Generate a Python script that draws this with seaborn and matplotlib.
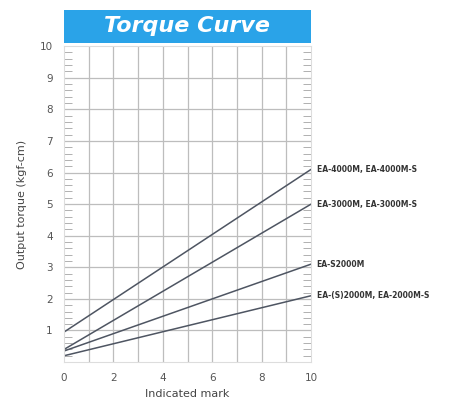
import matplotlib
matplotlib.use("Agg")
import matplotlib.pyplot as plt
import seaborn as sns
import pandas as pd

models = ["EA-4000M, EA-4000M-S", "EA-3000M, EA-3000M-S", "EA-S2000M", "EA-(S)2000M, EA-2000M-S"]
mark = [0, 10]
torque_4000 = [0.95, 6.1]
torque_3000 = [0.4, 5.0]
torque_s2000 = [0.35, 3.1]
torque_2000 = [0.2, 2.1]
x_ticks = [0, 2, 4, 6, 8, 10]
y_ticks = [1, 2, 3, 4, 5, 6, 7, 8, 9, 10]

rows = []
for name, vals in zip(models, [torque_4000, torque_3000, torque_s2000, torque_2000]):
    for m, v in zip(mark, vals):
        rows.append({"model": name, "mark": m, "torque": v})
df = pd.DataFrame(rows)

sns.set_style("white")
fig = plt.figure(figsize=(4.55, 4.05), dpi=100)
ax = fig.add_axes([0.1407, 0.106, 0.543, 0.78])

sns.lineplot(data=df, x="mark", y="torque", units="model", estimator=None,
             color="#4e5562", linewidth=1.1, ax=ax, legend=False)

ax.set_xlim(0, 10)
ax.set_ylim(0, 10)
ax.set_xticks(x_ticks)
ax.set_yticks(y_ticks)
ax.set_yticks([i * 0.2 for i in range(51)], minor=True)
ax.grid(False)
for v in range(1, 10):
    ax.axvline(v, color="#bdbdbd", lw=0.9, zorder=0)
for v in range(1, 10):
    ax.axhline(v, color="#bdbdbd", lw=0.9, zorder=0)
ax.tick_params(axis="both", which="major", labelsize=7.5, colors="#555555", length=0, pad=8)
ax.tick_params(axis="y", which="minor", left=True, right=True, direction="in",
               length=6, color="#b0b0b0", width=0.7)
for s in ax.spines.values():
    s.set_color("#dddddd")
    s.set_linewidth(0.8)

ax.set_xlabel("Indicated mark", fontsize=8, color="#444444", labelpad=4)
ax.set_ylabel("Output torque (kgf-cm)", fontsize=8, color="#444444", labelpad=9)

for name, vals in zip(models, [torque_4000, torque_3000, torque_s2000, torque_2000]):
    ax.annotate(name, xy=(10, vals[1]), xytext=(4, 0), textcoords="offset points",
                fontsize=5.5, fontweight="bold", color="#333333", va="center", ha="left",
                annotation_clip=False)

# Title banner
bax = fig.add_axes([64 / 455, 1 - 43 / 405, 247 / 455, 33 / 405])
bax.set_facecolor("#2aa3e8")
bax.set_xticks([])
bax.set_yticks([])
for s in bax.spines.values():
    s.set_visible(False)
bax.text(0.5, 0.5, "Torque Curve", color="white", fontsize=16, fontweight="bold",
         fontstyle="italic", ha="center", va="center", transform=bax.transAxes)

fig.savefig("out.png", dpi=100)
